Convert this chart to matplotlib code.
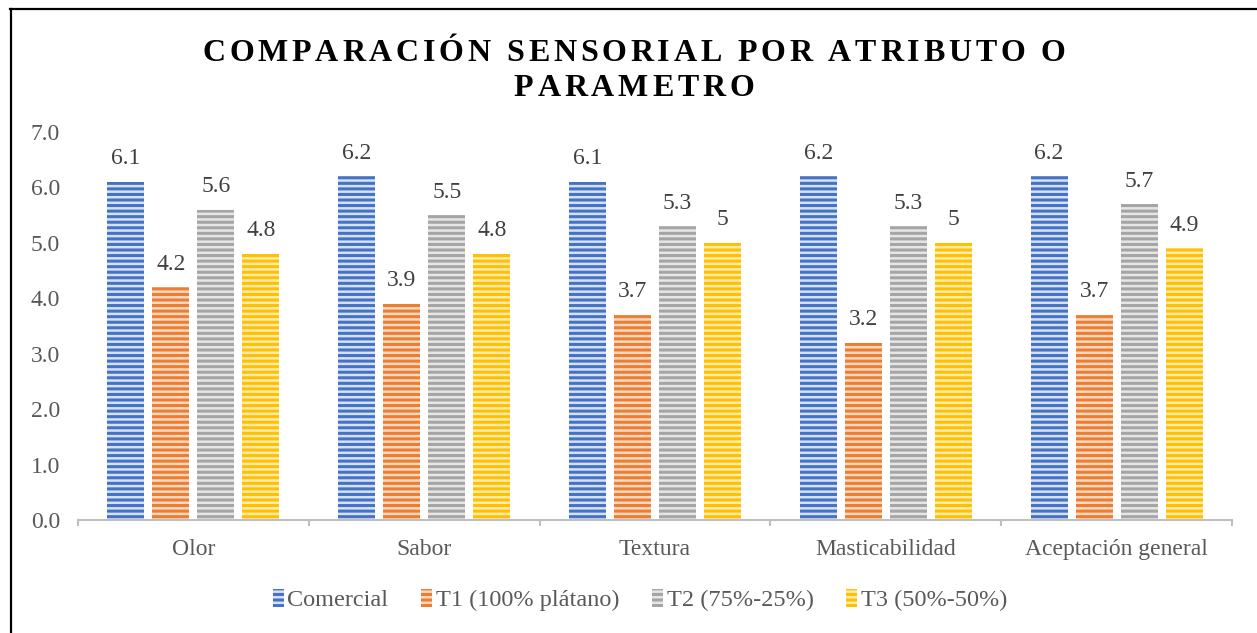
import matplotlib
matplotlib.use("Agg")
import numpy as np
import matplotlib.pyplot as plt
from matplotlib.patches import Patch
from matplotlib.lines import Line2D
from matplotlib.font_manager import FontProperties, findfont, get_font


# data
categorias = ['Olor', 'Sabor', 'Textura', 'Masticabilidad', 'Aceptación general']
series = ['Comercial', 'T1 (100% plátano)', 'T2 (75%-25%)', 'T3 (50%-50%)']
comercial = [6.1, 6.2, 6.1, 6.2, 6.2]
t1 = [4.2, 3.9, 3.7, 3.2, 3.7]
t2 = [5.6, 5.5, 5.3, 5.3, 5.7]
t3 = [4.8, 4.8, 5.0, 5.0, 4.9]
yticks = [0.0, 1.0, 2.0, 3.0, 4.0, 5.0, 6.0, 7.0]

colores = ['#4472C4', '#ED7D31', '#A5A5A5', '#FFC000']
claros = ['#D6E1F5', '#FAD9C2', '#E6E6E6', '#FFEBB0']

plt.rcParams['font.family'] = ['Liberation Serif', 'DejaVu Serif']
plt.rcParams['hatch.linewidth'] = 1.8

fig = plt.figure(figsize=(12.57, 6.33), dpi=100)
ax = fig.add_axes([0.0621, 0.1785, 0.918, 0.613])

x = np.arange(len(categorias))
ancho = 0.16
paso = 0.195
valores = [comercial, t1, t2, t3]

for i, vals in enumerate(valores):
    pos = x + (i - 1.5) * paso
    barras = ax.bar(pos, vals, ancho, color=colores[i], edgecolor=claros[i],
                    linewidth=0, hatch='---')
    for b, v in zip(barras, vals):
        ax.annotate(f"{v:g}", (b.get_x() + b.get_width() / 2, v),
                    xytext=(0, 9), textcoords='offset points',
                    ha='center', va='bottom', fontsize=17, color='#404040')

ax.set_xlim(-0.5, len(categorias) - 0.5)
ax.set_ylim(0, 7)
ax.set_yticks(yticks)
ax.set_yticklabels([f"{t:.1f}" for t in yticks])
ax.tick_params(axis='y', length=0, pad=13, labelsize=17, labelcolor='#595959')

# category boundaries as major ticks, labels on minor ticks
ax.set_xticks(np.arange(len(categorias) + 1) - 0.5)
ax.set_xticklabels([])
ax.set_xticks(x, minor=True)
ax.set_xticklabels(categorias, minor=True)
ax.tick_params(axis='x', which='major', length=4, width=1.5, color='#BFBFBF')
ax.tick_params(axis='x', which='minor', length=0, pad=14, labelsize=17,
               labelcolor='#595959')

for s in ['top', 'right', 'left']:
    ax.spines[s].set_visible(False)
ax.spines['bottom'].set_color('#BFBFBF')
ax.spines['bottom'].set_linewidth(1.5)

handles = [Patch(facecolor=colores[i], edgecolor=claros[i], linewidth=0,
                 hatch='---', label=series[i]) for i in range(4)]
leg = ax.legend(handles=handles, loc='center', bbox_to_anchor=(640 / 1257, 0.052),
                bbox_transform=fig.transFigure, ncol=4, frameon=False,
                fontsize=17.5, handlelength=0.45, handleheight=0.75,
                handletextpad=0.15, columnspacing=1.35)
for t in leg.get_texts():
    t.set_color('#595959')


# title with letter spacing, drawn char by char
fp = FontProperties(family='Liberation Serif', weight='bold', size=23)
ft = get_font(findfont(fp))
ft.set_size(23, 100)


def spaced_line(texto, yb, cx=634, extra=3.8):
    anchos = []
    for ch in texto:
        g = ft.load_char(ord(ch))
        anchos.append(g.linearHoriAdvance / 65536)
    total = sum(anchos) + extra * (len(texto) - 1)
    xp = cx - total / 2
    for ch, w in zip(texto, anchos):
        fig.text(xp / 1257, 1 - yb / 633, ch, fontproperties=fp,
                 color='black', ha='left', va='baseline')
        xp += w + extra


spaced_line('COMPARACIÓN SENSORIAL POR ATRIBUTO O', 61)
spaced_line('PARAMETRO', 96)

# chart frame (left and top edges visible)
fig.add_artist(Line2D([10.5 / 1257, 10.5 / 1257], [0, 1 - 9 / 633],
                      transform=fig.transFigure, color='black', linewidth=1.6))
fig.add_artist(Line2D([10 / 1257, 1], [1 - 9 / 633, 1 - 9 / 633],
                      transform=fig.transFigure, color='black', linewidth=1.6))

fig.savefig('out.png', dpi=100)
